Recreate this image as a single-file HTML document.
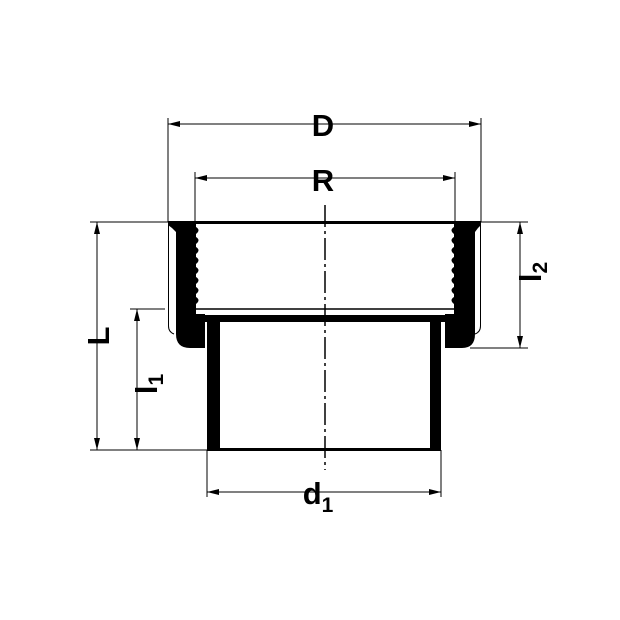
<!DOCTYPE html>
<html><head><style>html,body{margin:0;padding:0;background:#fff}svg{display:block}</style></head><body>
<svg width="620" height="620" viewBox="0 0 620 620" xmlns="http://www.w3.org/2000/svg" font-family="Liberation Sans, sans-serif">
<defs>
<marker id="a" viewBox="0 0 12 6" refX="12" refY="3" markerWidth="12" markerHeight="6" orient="auto-start-reverse" markerUnits="userSpaceOnUse"><path d="M0,0L12,3L0,6z" fill="#000"/></marker>
</defs>
<g stroke="#000" stroke-width="1" fill="none">
<line x1="168" y1="118" x2="168" y2="222"/>
<line x1="481" y1="118" x2="481" y2="222"/>
<line x1="195" y1="172" x2="195" y2="222"/>
<line x1="455" y1="172" x2="455" y2="222"/>
<line x1="90" y1="222" x2="168" y2="222"/>
<line x1="90" y1="450" x2="207" y2="450"/>
<line x1="130" y1="309" x2="165" y2="309"/>
<line x1="481" y1="222" x2="528" y2="222"/>
<line x1="470" y1="348" x2="528" y2="348"/>
<line x1="207" y1="450" x2="207" y2="497"/>
<line x1="441" y1="450" x2="441" y2="497"/>
<line x1="168" y1="124" x2="481" y2="124" marker-start="url(#a)" marker-end="url(#a)"/>
<line x1="195" y1="178" x2="455" y2="178" marker-start="url(#a)" marker-end="url(#a)"/>
<line x1="97" y1="222" x2="97" y2="450" marker-start="url(#a)" marker-end="url(#a)"/>
<line x1="137" y1="309" x2="137" y2="450" marker-start="url(#a)" marker-end="url(#a)"/>
<line x1="520" y1="222" x2="520" y2="348" marker-start="url(#a)" marker-end="url(#a)"/>
<line x1="207" y1="492" x2="441" y2="492" marker-start="url(#a)" marker-end="url(#a)"/>
<line x1="325" y1="205" x2="325" y2="470" stroke-width="1.5" stroke-dasharray="22,4,3,4"/>
<path d="M168.5 222 V326 Q168.5 332 174 334"/>
<path d="M480.5 222 V326 Q480.5 332 475 334"/>
<line x1="195" y1="309" x2="455" y2="309" stroke-width="1.5"/>
</g>
<g fill="#000">
<rect x="195" y="221" width="260" height="3"/>
<path d="M168 221 H196 V314 H205 V348 H190 Q176 348 176 334 V232 L172 228 L168 225 Z"/>
<path d="M481 221 H454 V314 H445 V348 H462 Q475 348 475 334 V232 L478 228 L481 225 Z"/>
<rect x="200" y="315" width="250" height="7"/>
<rect x="207" y="315" width="13" height="136"/>
<rect x="430" y="315" width="11" height="136"/>
<rect x="207" y="448" width="234" height="3"/>
<path d="M196 227 q5 3 0 7 M196 237 q5 3 0 7 M196 247 q5 3 0 7 M196 257 q5 3 0 7 M196 267 q5 3 0 7 M196 277 q5 3 0 7 M196 287 q5 3 0 7 M196 297 q5 3 0 7"/>
<path d="M454 227 q-5 3 0 7 M454 237 q-5 3 0 7 M454 247 q-5 3 0 7 M454 257 q-5 3 0 7 M454 267 q-5 3 0 7 M454 277 q-5 3 0 7 M454 287 q-5 3 0 7 M454 297 q-5 3 0 7"/>
</g>
<g font-size="31" fill="#000" font-weight="bold">
<text x="323" y="136" text-anchor="middle">D</text>
<text x="323" y="191" text-anchor="middle">R</text>
<text transform="translate(109,336) rotate(-90)" text-anchor="middle">L</text>
<text transform="translate(157,384) rotate(-90)" text-anchor="middle">l<tspan font-size="21" dy="6">1</tspan></text>
<text transform="translate(541,272) rotate(-90)" text-anchor="middle">l<tspan font-size="21" dy="6">2</tspan></text>
<text x="318" y="504" text-anchor="middle">d<tspan font-size="21" dy="8">1</tspan></text>
</g>
</svg>
</body></html>
